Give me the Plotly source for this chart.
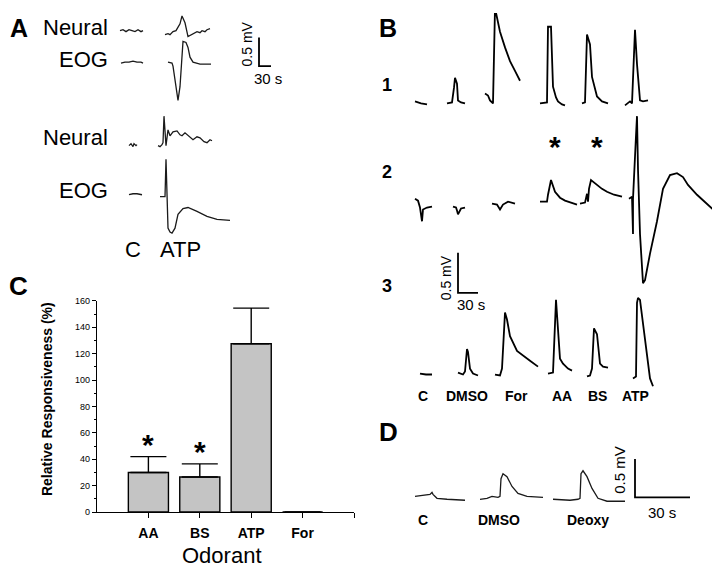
import plotly.graph_objects as go

FONT = "Arial, Liberation Sans, sans-serif"

# ---------------- Panel C data (bar chart) ----------------
odorants = ["AA", "BS", "ATP", "For"]
responsiveness = [30, 26.5, 127.5, 0]
sem_upper = [12, 10, 27, 0]
y_ticks = [0, 20, 40, 60, 80, 100, 120, 140, 160]
y_ticktext = ["0", "20", "40", "60", "80", "100", "120", "140", "160"]
sig_odorants = ["AA", "BS"]

# Panel A
a_neural1_c_x = [120, 123, 126, 129, 132, 135, 138, 141, 143]
a_neural1_c_y = [26, 25, 27, 25, 26, 27, 25, 27, 26]
a_neural1_atp_x = [165, 168, 170, 173, 176, 178, 180, 182, 183, 185, 188, 190, 192, 195, 197, 200, 202, 205, 207, 210]
a_neural1_atp_y = [30, 29, 30, 27, 26, 22, 19, 11, 14, 18, 32, 31, 30, 28, 27, 28, 26, 27, 25, 24]
a_eog1_c_x = [121, 125, 129, 133, 137, 141, 143]
a_eog1_c_y = [59, 58, 58, 57, 58, 58, 59]
a_eog1_atp_x = [168, 172, 173, 176, 178, 180, 182, 183, 186, 188, 190, 193, 200, 211]
a_eog1_atp_y = [58, 59, 62, 83, 97, 83, 50, 37, 38, 43, 53, 58, 60, 60]
a_neural2_c_x = [129, 131, 133, 134, 136, 137]
a_neural2_c_y = [143, 141, 144, 141, 143, 142]
a_neural2_atp_x = [158, 160, 162, 163, 164, 166, 168, 170, 173, 177, 180, 182, 185, 187, 190, 193, 197, 200, 204, 207, 210, 212]
a_neural2_atp_y = [143, 144, 142, 140, 113, 143, 127, 133, 129, 128, 132, 133, 130, 132, 135, 137, 134, 135, 139, 140, 137, 138]
a_eog2_c_x = [129, 133, 137, 142]
a_eog2_c_y = [193, 192, 192, 193]
a_eog2_atp_x = [160, 165, 166, 167, 168, 170, 172, 175, 178, 183, 188, 197, 207, 217, 230]
a_eog2_atp_y = [195, 195, 157, 195, 227, 231, 232, 227, 213, 207, 206, 210, 215, 218, 219]

# Panel B row 1
b1_c_x = [415, 421, 427]
b1_c_y = [98, 100, 101]
b1_dmso_x = [447, 452, 454, 455, 457, 458, 461, 465]
b1_dmso_y = [100, 99, 84, 74, 80, 97, 99, 100]
b1_for_x = [485, 488, 490, 493, 495, 500, 505, 510, 515, 520]
b1_for_y = [90, 92, 97, 100, 3, 27, 43, 57, 67, 77]
b1_aa_x = [540, 547, 548, 551, 553, 556, 558, 562, 565]
b1_aa_y = [100, 99, 22, 22, 83, 94, 98, 101, 102]
b1_bs_x = [582, 585, 587, 590, 592, 595, 597, 602, 608]
b1_bs_y = [100, 99, 30, 40, 73, 86, 93, 98, 100]
b1_atp_x = [625, 628, 630, 632, 635, 637, 640, 643, 648]
b1_atp_y = [102, 100, 98, 100, 25, 60, 97, 98, 97]

# Panel B row 2
b2_c_x = [415, 418, 420, 422, 423, 427, 432]
b2_c_y = [197, 199, 206, 220, 208, 206, 205]
b2_dmso_x = [453, 456, 457, 458, 461, 465]
b2_dmso_y = [205, 206, 209, 213, 207, 206]
b2_for_x = [492, 497, 500, 503, 508, 515]
b2_for_y = [202, 203, 208, 203, 200, 202]
b2_aa_x = [540, 547, 548, 551, 555, 560, 565, 570, 577]
b2_aa_y = [200, 200, 193, 178, 190, 196, 199, 201, 203]
b2_bs_x = [580, 585, 587, 588, 589, 591, 597, 602, 607, 614, 622]
b2_bs_y = [202, 201, 192, 200, 187, 178, 183, 187, 190, 193, 195]
b2_atp_x = [629, 632, 633, 633, 636, 637, 638, 640, 643, 645, 650, 657, 663, 670, 677, 683, 688, 697, 713]
b2_atp_y = [197, 195, 233, 197, 133, 113, 167, 233, 283, 280, 253, 220, 187, 173, 171, 175, 183, 193, 208]

# Panel B row 3
b3_c_x = [420, 426, 432]
b3_c_y = [375, 376, 376]
b3_dmso_x = [458, 463, 465, 467, 468, 470, 473, 478]
b3_dmso_y = [374, 376, 373, 350, 353, 370, 375, 377]
b3_for_x = [495, 500, 502, 505, 507, 510, 517, 523, 530, 538]
b3_for_y = [376, 377, 370, 313, 320, 337, 352, 357, 362, 368]
b3_aa_x = [548, 553, 556, 557, 560, 563, 568, 572]
b3_aa_y = [375, 374, 300, 313, 360, 365, 370, 372]
b3_bs_x = [587, 590, 592, 594, 597, 600, 603, 608]
b3_bs_y = [378, 377, 370, 329, 335, 365, 368, 369]
b3_atp_x = [633, 636, 637, 638, 640, 643, 647, 650, 653]
b3_atp_y = [380, 378, 303, 298, 300, 323, 357, 380, 388]

# Panel D
d_c_x = [415, 423, 427, 430, 432, 433, 437, 447, 465]
d_c_y = [500, 499, 499, 498, 496, 498, 502, 503, 504]
d_dmso_x = [480, 487, 492, 498, 500, 501, 503, 507, 512, 518, 527, 543]
d_dmso_y = [503, 502, 500, 501, 500, 482, 477, 480, 490, 497, 500, 501]
d_deoxy_x = [553, 570, 578, 580, 581, 583, 587, 592, 598, 607, 625]
d_deoxy_y = [503, 504, 503, 502, 477, 474, 480, 492, 502, 505, 505]

thin = [
    (a_neural1_c_x, a_neural1_c_y), (a_neural1_atp_x, a_neural1_atp_y),
    (a_eog1_c_x, a_eog1_c_y), (a_eog1_atp_x, a_eog1_atp_y),
    (a_neural2_c_x, a_neural2_c_y), (a_neural2_atp_x, a_neural2_atp_y),
    (a_eog2_c_x, a_eog2_c_y), (a_eog2_atp_x, a_eog2_atp_y),
    (d_c_x, d_c_y), (d_dmso_x, d_dmso_y), (d_deoxy_x, d_deoxy_y),
]
thick = [
    (b1_c_x, b1_c_y), (b1_dmso_x, b1_dmso_y), (b1_for_x, b1_for_y),
    (b1_aa_x, b1_aa_y), (b1_bs_x, b1_bs_y), (b1_atp_x, b1_atp_y),
    (b2_c_x, b2_c_y), (b2_dmso_x, b2_dmso_y), (b2_for_x, b2_for_y),
    (b2_aa_x, b2_aa_y), (b2_bs_x, b2_bs_y), (b2_atp_x, b2_atp_y),
    (b3_c_x, b3_c_y), (b3_dmso_x, b3_dmso_y), (b3_for_x, b3_for_y),
    (b3_aa_x, b3_aa_y), (b3_bs_x, b3_bs_y), (b3_atp_x, b3_atp_y),
]

fig = go.Figure()

# Panel C bars
fig.add_trace(go.Bar(
    x=[1, 2, 3, 4], y=responsiveness, width=0.78,
    marker=dict(color="#c4c4c4", line=dict(color="black", width=1.4)),
    error_y=dict(type="data", symmetric=False, array=sem_upper,
                 arrayminus=[0, 0, 0, 0], color="black", thickness=1.4, width=18),
    xaxis="x", yaxis="y", showlegend=False, hoverinfo="skip",
))

for xs, ys in thin:
    fig.add_trace(go.Scatter(x=xs, y=ys, mode="lines", xaxis="x2", yaxis="y2",
                             line=dict(color="#1a1a1a", width=1.3), showlegend=False, hoverinfo="skip"))
for xs, ys in thick:
    fig.add_trace(go.Scatter(x=xs, y=ys, mode="lines", xaxis="x2", yaxis="y2",
                             line=dict(color="black", width=1.8), showlegend=False, hoverinfo="skip"))

# page offset: the html body has an 8px margin
OFF = 8
PW, PH = 720, 575
W, H = PW - OFF, PH - OFF


def dx(px):
    return (px - OFF) / W


def dy(py):
    return 1 - (py - OFF) / H


ann = []


def txt(x, y, s, size, bold=False, angle=0, xanchor="center"):
    ann.append(dict(x=x, y=y, xref="x2", yref="y2", text=("<b>%s</b>" % s) if bold else s,
                    showarrow=False, textangle=angle, xanchor=xanchor, yanchor="middle",
                    font=dict(family=FONT, size=size, color="black")))


# Panel letters
txt(19, 23, "A", 25, True)
txt(388, 23, "B", 25, True)
txt(18, 286, "C", 26, True)
txt(388, 435, "D", 26, True)

# Panel A labels
txt(110, 23, "Neural", 22, xanchor="right")
txt(110, 55, "EOG", 22, xanchor="right")
txt(110, 135, "Neural", 22, xanchor="right")
txt(110, 189, "EOG", 22, xanchor="right")
txt(133, 249, "C", 22)
txt(180, 249, "ATP", 22)
txt(247, 40, "0.5 mV", 14, angle=-90)
txt(268, 75, "30 s", 15)

# Panel B labels
txt(387, 81, "1", 18, True)
txt(387, 170, "2", 18, True)
txt(387, 286, "3", 18, True)
txt(555, 144, "*", 30, True)
txt(597, 144, "*", 30, True)
txt(446, 278, "0.5 mV", 14, angle=-90)
txt(471, 305, "30 s", 15)
for s, xc in zip(["C", "DMSO", "For", "AA", "BS", "ATP"], [423, 467, 516, 562, 597, 635]):
    txt(xc, 398, s, 14, True)

# Panel D labels
txt(620, 473, "0.5 mV", 15, angle=-90)
txt(662, 516, "30 s", 15)
for s, xc in zip(["C", "DMSO", "Deoxy"], [423, 499, 588]):
    txt(xc, 524, s, 14, True)

# Panel C extra text
txt(47, 401, "Relative Responsiveness (%)", 14, True, angle=-90)
txt(222, 560, "Odorant", 22)
for o in sig_odorants:
    i = odorants.index(o) + 1
    ann.append(dict(x=i, y=responsiveness[i - 1] + sem_upper[i - 1] + 9, xref="x", yref="y",
                    text="<b>*</b>", showarrow=False, yanchor="middle",
                    font=dict(family=FONT, size=30, color="black")))

# Scale bars
shapes = []
for pts in ([(259, 33), (259, 62), (271, 62)],
            [(458, 252), (458, 293), (478, 293)],
            [(635, 462), (635, 501), (690, 501)]):
    path = "M %d,%d L %d,%d L %d,%d" % (pts[0] + pts[1] + pts[2])
    shapes.append(dict(type="path", path=path, xref="x2", yref="y2",
                       line=dict(color="black", width=1.8)))

fig.update_layout(
    width=W, height=H, autosize=False,
    margin=dict(l=0, r=0, t=0, b=0),
    paper_bgcolor="white", plot_bgcolor="rgba(0,0,0,0)",
    xaxis=dict(domain=[dx(97), dx(354)], range=[0, 5], anchor="y",
               tickmode="array", tickvals=[1, 2, 3, 4, 5],
               ticktext=["<b>%s</b>" % o for o in odorants] + [""],
               ticks="outside", ticklen=5, tickcolor="black", tickwidth=1,
               showline=True, linecolor="black", linewidth=1.2, showgrid=False, zeroline=False,
               tickfont=dict(family=FONT, size=14, color="black"), ticklabelstandoff=3),
    yaxis=dict(domain=[dy(516), dy(301)], range=[0, 160], anchor="x",
               tickmode="array", tickvals=y_ticks, ticktext=y_ticktext,
               ticks="outside", ticklen=4, tickcolor="black", tickwidth=1,
               minor=dict(dtick=10, ticks="outside", ticklen=2, tickcolor="black"),
               showline=True, linecolor="black", linewidth=1.2, showgrid=False, zeroline=False,
               tickfont=dict(family=FONT, size=9, color="black")),
    xaxis2=dict(domain=[0, 1], range=[OFF, PW], anchor="y2", visible=False, fixedrange=True),
    yaxis2=dict(domain=[0, 1], range=[PH, OFF], anchor="x2", visible=False, fixedrange=True),
    annotations=ann, shapes=shapes,
)

fig.write_html("out.html")
